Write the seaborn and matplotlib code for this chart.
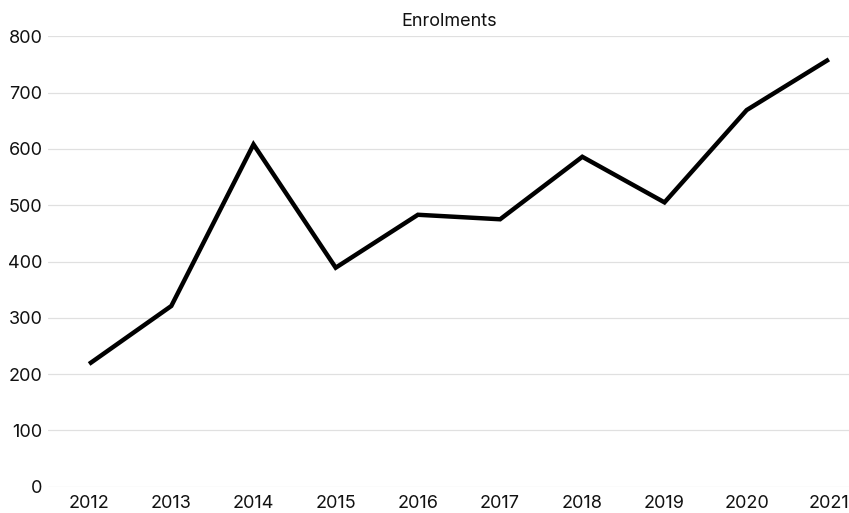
import matplotlib
matplotlib.use("Agg")
import matplotlib.pyplot as plt
import seaborn as sns
import pandas as pd

years = [2012, 2013, 2014, 2015, 2016, 2017, 2018, 2019, 2020, 2021]
enrolments = [218, 321, 608, 389, 483, 475, 586, 505, 669, 759]
y_ticks = [0, 100, 200, 300, 400, 500, 600, 700, 800]

df = pd.DataFrame({"Year": years, "Enrolments": enrolments})

sns.set_theme(style="white")
plt.rcParams["font.family"] = ["Inter", "DejaVu Sans"]

W, H = 849, 513
fig = plt.figure(figsize=(W / 100, H / 100), dpi=100)
left, right, top, bottom = 48, 849, 36.3, 486.7
ax = fig.add_axes([left / W, 1 - bottom / H, (right - left) / W, (bottom - top) / H])

sns.lineplot(data=df, x="Year", y="Enrolments", ax=ax, color="black",
             linewidth=3.2, solid_joinstyle="miter", solid_capstyle="butt")

ax.set_ylim(0, 800)
ax.set_xlim(2011.5, 2011.5 + (right - left) / 82.2)
ax.set_yticks(y_ticks)
ax.set_xticks(years)
ax.set_xticklabels([str(y) for y in years])
ax.yaxis.grid(True, color="#e0e0e0", linewidth=0.9)
ax.xaxis.grid(False)
ax.set_axisbelow(True)
for s in ax.spines.values():
    s.set_visible(False)
ax.tick_params(axis="both", length=0, labelsize=13, colors="#111111")
ax.tick_params(axis="y", pad=4)
ax.tick_params(axis="x", pad=6)
ax.set_xlabel("")
ax.set_ylabel("")

fig.text(449 / W, 1 - 21 / H, "Enrolments", ha="center", va="center",
         fontsize=13, color="#111111")

fig.savefig("out.png", dpi=100)
